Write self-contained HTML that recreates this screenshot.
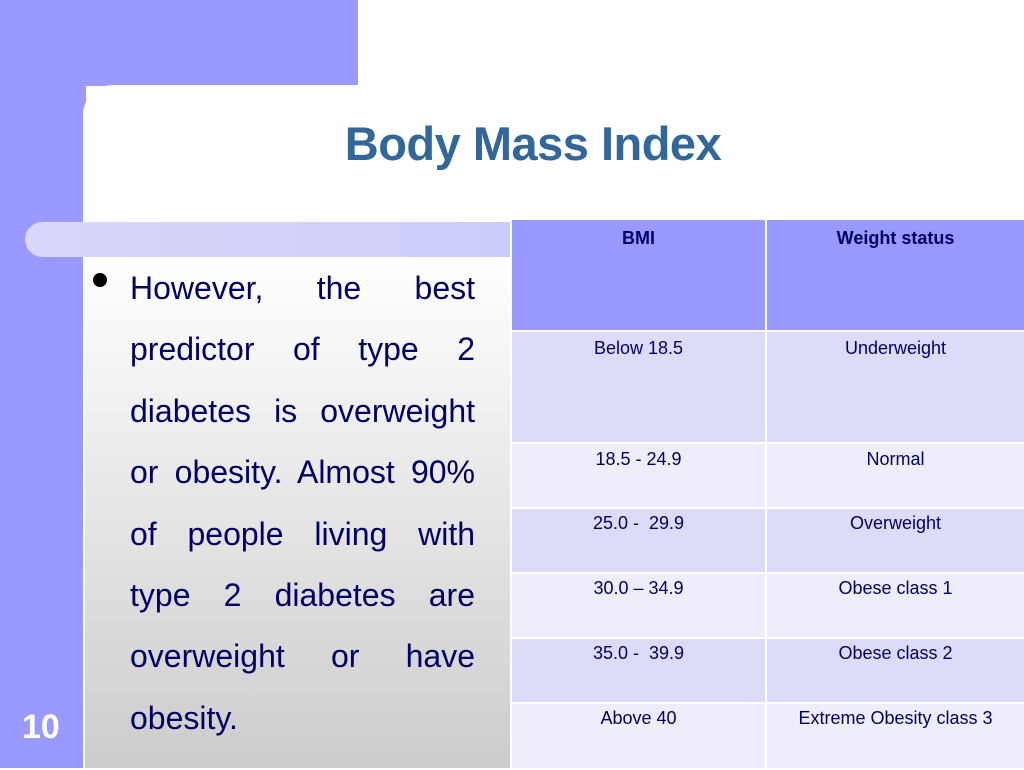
<!DOCTYPE html>
<html><head><meta charset="utf-8"><style>
body{margin:0;width:1024px;height:768px;position:relative;overflow:hidden;background:#fff;font-family:"Liberation Sans",sans-serif}
.abs{position:absolute}
td{padding:0;text-align:center;vertical-align:top;color:#000066;font-size:18px;border:2px solid #fff}
</style></head><body>
<div class="abs" style="left:0;top:0;width:86px;height:768px;background:#9999ff"></div>
<div class="abs" style="left:0;top:0;width:358px;height:86px;background:#9999ff"></div>
<div class="abs" style="left:83px;top:85px;width:941px;height:683px;background:#fff;border-top-left-radius:30px"></div>
<div class="abs" style="left:85px;top:257px;width:426px;height:511px;background:linear-gradient(#ffffff,#cccccc)"></div>
<div class="abs" style="left:25px;top:222px;width:486px;height:35px;background:linear-gradient(90deg,#d8d8fb,#ccccfa);border-radius:18px 0 0 18px"></div>
<div class="abs" style="left:230px;top:116px;width:606px;text-align:center;font-size:47px;font-weight:bold;color:#336699;letter-spacing:-0.5px">Body Mass Index</div>
<div class="abs" style="left:93px;top:273px;width:14px;height:14px;border-radius:50%;background:#000"></div>
<div class="abs" style="left:130px;top:258px;width:345px;font-size:32px;line-height:61.4px;color:#000066;text-align:justify">However, the best predictor of type 2 diabetes is overweight or obesity. Almost 90% of people living with type 2 diabetes are overweight or have obesity.</div>
<div class="abs" style="left:22px;top:708px;font-size:34px;font-weight:bold;color:#fff">10</div>
<table class="abs" style="left:510px;top:218px;width:516px;border-collapse:collapse">
<tr style="height:112px;background:#9999ff"><td style="width:253px;font-weight:bold;padding-top:8px">BMI</td><td style="font-weight:bold;padding-top:8px">Weight status</td></tr>
<tr style="height:112px;background:#dcdcf9"><td style="padding-top:6px">Below 18.5</td><td style="padding-top:6px">Underweight</td></tr>
<tr style="height:65px;background:#ededfc"><td style="padding-top:5px">18.5 - 24.9</td><td style="padding-top:5px">Normal</td></tr>
<tr style="height:65px;background:#dcdcf9"><td style="padding-top:4px">25.0 -&nbsp; 29.9</td><td style="padding-top:4px">Overweight</td></tr>
<tr style="height:65px;background:#ededfc"><td style="padding-top:4px">30.0 – 34.9</td><td style="padding-top:4px">Obese class 1</td></tr>
<tr style="height:65px;background:#dcdcf9"><td style="padding-top:4px">35.0 -&nbsp; 39.9</td><td style="padding-top:4px">Obese class 2</td></tr>
<tr style="height:66px;background:#ededfc"><td style="padding-top:4px">Above 40</td><td style="padding-top:4px">Extreme Obesity class 3</td></tr>
</table>
</body></html>
